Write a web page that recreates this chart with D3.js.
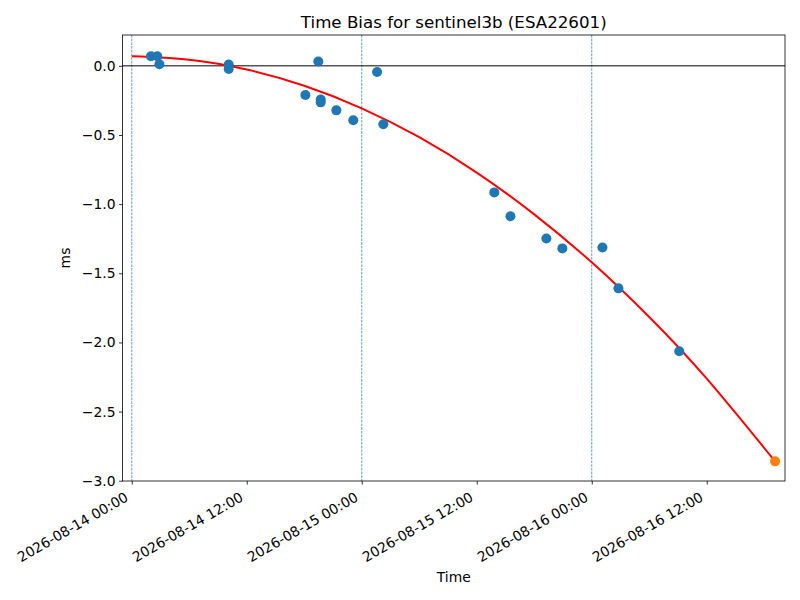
<!DOCTYPE html>
<html>
<head>
<meta charset="utf-8">
<script src="https://cdn.jsdelivr.net/npm/d3@7"></script>
<style>
  body { margin: 0; background: #fff; }
  svg, svg text { font-family: "DejaVu Sans", sans-serif; }
</style>
</head>
<body>
<div id="chart"></div>
<script>
// Observed time bias samples (ms)
const obsTimes = [
  "2026-08-14T02:00", "2026-08-14T02:40", "2026-08-14T02:53",
  "2026-08-14T10:07", "2026-08-14T10:07",
  "2026-08-14T18:07", "2026-08-14T19:28", "2026-08-14T19:43", "2026-08-14T19:43",
  "2026-08-14T21:21", "2026-08-14T23:07",
  "2026-08-15T01:36", "2026-08-15T02:15",
  "2026-08-15T13:50", "2026-08-15T15:31", "2026-08-15T19:16", "2026-08-15T20:56",
  "2026-08-16T01:07", "2026-08-16T02:47", "2026-08-16T09:08"
];
const obsValues = [
  0.069, 0.069, 0.011,
  0.010, -0.022,
  -0.211, 0.032, -0.243, -0.264,
  -0.322, -0.394,
  -0.045, -0.423,
  -0.915, -1.088, -1.248, -1.320,
  -1.313, -1.609, -2.064
];

// Predicted point (orange)
const predTimes = ["2026-08-16T19:08"];
const predValues = [-2.86];

// Fitted trend (red)
const fitTimes = [
  "2026-08-14T00:00", "2026-08-14T06:00", "2026-08-14T12:00", "2026-08-14T18:00",
  "2026-08-15T00:00", "2026-08-15T06:00", "2026-08-15T12:00", "2026-08-15T18:00",
  "2026-08-16T00:00", "2026-08-16T06:00", "2026-08-16T12:00", "2026-08-16T19:08"
];
const fitValues = [
  0.069, 0.044, -0.027, -0.144,
  -0.307, -0.516, -0.772, -1.074,
  -1.421, -1.816, -2.262, -2.86
];

// Day boundaries marked with dashed lines
const dayLines = ["2026-08-14T00:00", "2026-08-15T00:00", "2026-08-16T00:00"];

const xTicks = [
  "2026-08-14T00:00", "2026-08-14T12:00", "2026-08-15T00:00",
  "2026-08-15T12:00", "2026-08-16T00:00", "2026-08-16T12:00"
];
const yTicks = [0, -0.5, -1.0, -1.5, -2.0, -2.5, -3.0];

const xDomain = ["2026-08-13T23:02", "2026-08-16T20:10"];
const yDomain = [-3.002, 0.223];

const width = 800;
const height = 600;
const margin = { top: 35, right: 15, bottom: 119, left: 122.5 };
const innerW = width - margin.left - margin.right;
const innerH = height - margin.top - margin.bottom;
const font = "DejaVu Sans";
const tickFont = 13.89;   // 10pt at 100 dpi
const titleFont = 16.67;  // 12pt

const parse = s => new Date(s + ":00Z");
const fmtTick = d3.utcFormat("%Y-%m-%d %H:%M");

const svg = d3.select("#chart").append("svg")
  .attr("width", width)
  .attr("height", height)
  .attr("font-family", font);

const x = d3.scaleUtc().domain(xDomain.map(parse)).range([0, innerW]);
const y = d3.scaleLinear().domain(yDomain).range([innerH, 0]);

const g = svg.append("g").attr("transform", `translate(${margin.left},${margin.top})`);

// Dashed day lines
g.selectAll("line.day")
  .data(dayLines.map(parse))
  .enter().append("line")
  .attr("class", "day")
  .attr("x1", d => x(d)).attr("x2", d => x(d))
  .attr("y1", 0).attr("y2", innerH)
  .attr("stroke", "#1f77b4")
  .attr("stroke-width", 0.7)
  .attr("stroke-dasharray", "2.6,1.1");

// Zero line
g.append("line")
  .attr("x1", 0).attr("x2", innerW)
  .attr("y1", y(0)).attr("y2", y(0))
  .attr("stroke", "#000")
  .attr("stroke-width", 1);

// Trend curve
const fitData = fitTimes.map((t, i) => ({ t: parse(t), v: fitValues[i] }));
g.append("path")
  .datum(fitData)
  .attr("d", d3.line().x(d => x(d.t)).y(d => y(d.v)).curve(d3.curveNatural))
  .attr("fill", "none")
  .attr("stroke", "#ff0000")
  .attr("stroke-width", 2);

// Observations
g.selectAll("circle.obs")
  .data(obsTimes.map((t, i) => ({ t: parse(t), v: obsValues[i] })))
  .enter().append("circle")
  .attr("class", "obs")
  .attr("cx", d => x(d.t))
  .attr("cy", d => y(d.v))
  .attr("r", 5)
  .attr("fill", "#1f77b4");

g.selectAll("circle.pred")
  .data(predTimes.map((t, i) => ({ t: parse(t), v: predValues[i] })))
  .enter().append("circle")
  .attr("class", "pred")
  .attr("cx", d => x(d.t))
  .attr("cy", d => y(d.v))
  .attr("r", 5)
  .attr("fill", "#ff7f0e");

// Axes
const xAxis = g.append("g")
  .attr("transform", `translate(0,${innerH})`)
  .call(d3.axisBottom(x).tickValues(xTicks.map(parse)).tickFormat(fmtTick)
    .tickSizeInner(3.5).tickSizeOuter(0).tickPadding(3.5))
  .attr("font-family", font)
  .attr("font-size", tickFont);
xAxis.select(".domain").remove();
xAxis.selectAll("text")
  .attr("fill", "#000")
  .attr("text-anchor", "end")
  .attr("dy", null)
  .attr("y", null)
  .attr("transform", "translate(-3,19) rotate(-30)");

const yAxis = g.append("g")
  .call(d3.axisLeft(y).tickValues(yTicks).tickFormat(d3.format(".1f"))
    .tickSizeInner(3.5).tickSizeOuter(0).tickPadding(3.5))
  .attr("font-family", font)
  .attr("font-size", tickFont);
yAxis.select(".domain").remove();
yAxis.selectAll("text").attr("fill", "#000");

g.selectAll(".tick line").attr("stroke", "#000").attr("stroke-width", 0.8);

// Frame
g.append("rect")
  .attr("x", 0).attr("y", 0)
  .attr("width", innerW).attr("height", innerH)
  .attr("fill", "none")
  .attr("stroke", "#000")
  .attr("stroke-width", 0.8);

// Titles
svg.append("text")
  .attr("x", margin.left + innerW / 2)
  .attr("y", 28)
  .attr("text-anchor", "middle")
  .attr("font-size", titleFont)
  .text("Time Bias for sentinel3b (ESA22601)");

svg.append("text")
  .attr("x", margin.left + innerW / 2)
  .attr("y", 582)
  .attr("text-anchor", "middle")
  .attr("font-size", tickFont)
  .text("Time");

svg.append("text")
  .attr("transform", `translate(70,${margin.top + innerH / 2}) rotate(-90)`)
  .attr("text-anchor", "middle")
  .attr("font-size", tickFont)
  .text("ms");
</script>
</body>
</html>
